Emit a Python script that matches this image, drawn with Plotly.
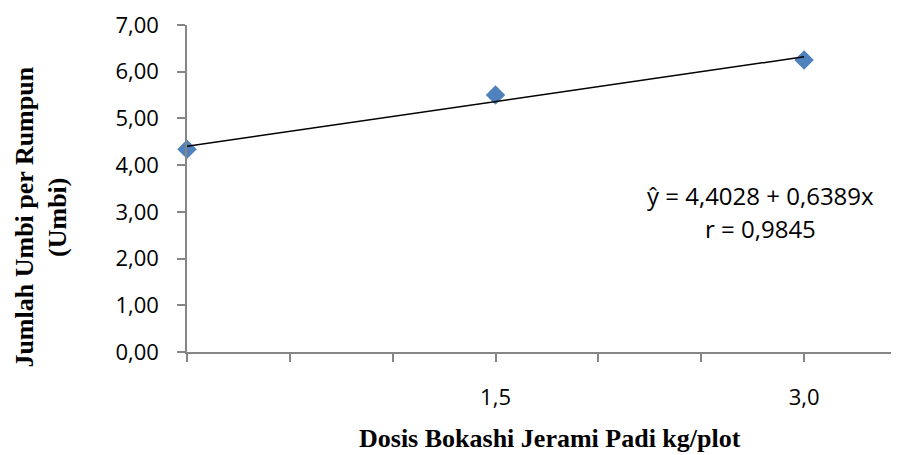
import plotly.graph_objects as go

# Data
dose = [0.0, 1.5, 3.0]
tubers = [4.34, 5.50, 6.25]
trend_x = [0.0, 3.0]
trend_y = [4.4028, 6.3195]

x_tickvals = [0.0, 0.5, 1.0, 1.5, 2.0, 2.5, 3.0]
x_ticktext = ["", "", "", "1,5", "", "", "3,0"]
y_tickvals = [0, 1, 2, 3, 4, 5, 6, 7]
y_ticktext = ["0,00", "1,00", "2,00", "3,00", "4,00", "5,00", "6,00", "7,00"]

eq_line1 = "ŷ = 4,4028 + 0,6389x"
eq_line2 = "r = 0,9845"
x_title = "Dosis Bokashi Jerami Padi kg/plot"
y_title = "Jumlah Umbi per Rumpun<br>(Umbi)"

axis_color = "#868686"
tick_font = dict(family="Open Sans", size=22, color="#000000")
title_font = dict(family="Liberation Serif", size=26, color="#000000")

# page body has an 8px margin; layout expressed in window pixels
OFF = 8
W, H = 899 - OFF, 455 - OFF
PL, PR, PT, PB = 186.5, 899, 25, 352  # plot area in window pixels
xmax = (PR - PL) / ((804 - PL) / 3.0)


def px(xw):
    return (xw - PL) / (PR - PL)


def py(yw):
    return (PB - yw) / (PB - PT)


fig = go.Figure()
fig.add_trace(go.Scatter(
    x=dose, y=tubers, mode="markers",
    marker=dict(symbol="diamond", size=15, color="#4F81BD", line=dict(width=0)),
    cliponaxis=False, showlegend=False,
))
fig.add_trace(go.Scatter(
    x=trend_x, y=trend_y, mode="lines",
    line=dict(color="#000000", width=1.5),
    cliponaxis=False, showlegend=False,
))

fig.update_layout(
    width=W, height=H,
    margin=dict(l=PL - OFF, r=0, t=PT - OFF, b=H - (PB - OFF), pad=0),
    paper_bgcolor="white", plot_bgcolor="white",
    xaxis=dict(
        range=[0, xmax], tickmode="array", tickvals=x_tickvals, ticktext=x_ticktext,
        showgrid=False, zeroline=False, showline=True, linecolor=axis_color, linewidth=1.5,
        ticks="outside", ticklen=8, tickcolor=axis_color, tickwidth=1.5,
        tickfont=tick_font, ticklabelstandoff=17,
    ),
    yaxis=dict(
        range=[0, 7], tickmode="array", tickvals=y_tickvals, ticktext=y_ticktext,
        showgrid=False, zeroline=False, showline=True, linecolor=axis_color, linewidth=1.5,
        ticks="outside", ticklen=8, tickcolor=axis_color, tickwidth=1.5,
        tickfont=tick_font, ticklabelstandoff=14,
    ),
    annotations=[
        dict(text=eq_line1, x=px(760), y=py(195), xref="paper", yref="paper",
             showarrow=False, xanchor="center", yanchor="middle",
             font=dict(family="Open Sans", size=24, color="#000000")),
        dict(text=eq_line2, x=px(760), y=py(228), xref="paper", yref="paper",
             showarrow=False, xanchor="center", yanchor="middle",
             font=dict(family="Open Sans", size=24, color="#000000")),
        dict(text="<b>" + x_title + "</b>", x=px(550), y=py(438),
             xref="paper", yref="paper", showarrow=False, xanchor="center", yanchor="middle",
             font=title_font),
        dict(text="<b>" + y_title + "</b>", x=px(40), y=py(217),
             xref="paper", yref="paper", showarrow=False, xanchor="center", yanchor="middle",
             textangle=-90, font=title_font),
    ],
)

fig.write_html("out.html")
